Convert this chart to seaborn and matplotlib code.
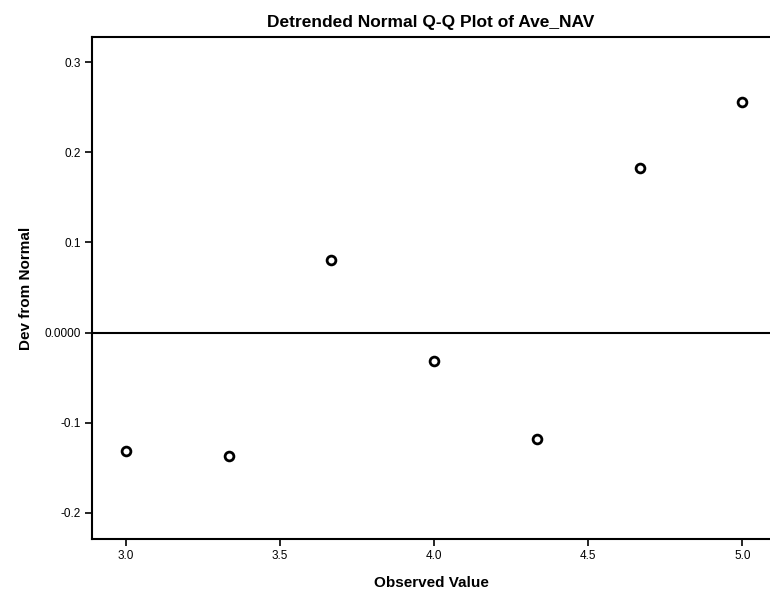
import matplotlib
matplotlib.use("Agg")
import matplotlib.pyplot as plt
import seaborn as sns
import pandas as pd

observed = [3.0, 3.333, 3.667, 4.0, 4.333, 4.667, 5.0]
deviation = [-0.131, -0.137, 0.081, -0.031, -0.118, 0.183, 0.256]
xticks = [3.0, 3.5, 4.0, 4.5, 5.0]
xticklabels = ["3.0", "3.5", "4.0", "4.5", "5.0"]
yticks = [-0.2, -0.1, 0.0, 0.1, 0.2, 0.3]
yticklabels = ["-0.2", "-0.1", "0.0000", "0.1", "0.2", "0.3"]

sns.set_style("white")
plt.rcParams['font.family'] = ['Liberation Sans', 'DejaVu Sans']
plt.rcParams['text.color'] = 'black'
plt.rcParams['axes.labelcolor'] = 'black'

df = pd.DataFrame({"Observed Value": observed, "Dev from Normal": deviation})

fig = plt.figure(figsize=(7.7, 5.92), dpi=100)
ax = fig.add_axes([0.1195, 0.0895, 0.8805, 0.848])

ax.axhline(0.0, color="black", lw=1.5, zorder=1)
sns.scatterplot(data=df, x="Observed Value", y="Dev from Normal", ax=ax,
                marker="o", s=40, facecolor="white", edgecolor="black",
                linewidth=2, zorder=3)

ax.set_xlim(2.89, 5.09)
ax.set_ylim(-0.229, 0.328)
ax.set_xticks(xticks)
ax.set_xticklabels(xticklabels)
ax.set_yticks(yticks)
ax.set_yticklabels(yticklabels)

for s in ["left", "bottom", "top"]:
    ax.spines[s].set_visible(True)
    ax.spines[s].set_color("black")
    ax.spines[s].set_linewidth(1.5)
ax.spines["right"].set_visible(False)

ax.tick_params(axis="both", direction="out", length=5, width=1.2,
               labelsize=8.5, colors="black", bottom=True, left=True, pad=3)

ax.set_xlabel("Observed Value", fontsize=11, fontweight="bold", labelpad=10,
              color="black")
ax.set_ylabel("Dev from Normal", fontsize=11, fontweight="bold", labelpad=8,
              color="black")
ax.set_title("Detrended Normal Q-Q Plot of Ave_NAV", fontsize=12.5,
             fontweight="bold", pad=7, color="black")

fig.savefig("out.png", dpi=100)
